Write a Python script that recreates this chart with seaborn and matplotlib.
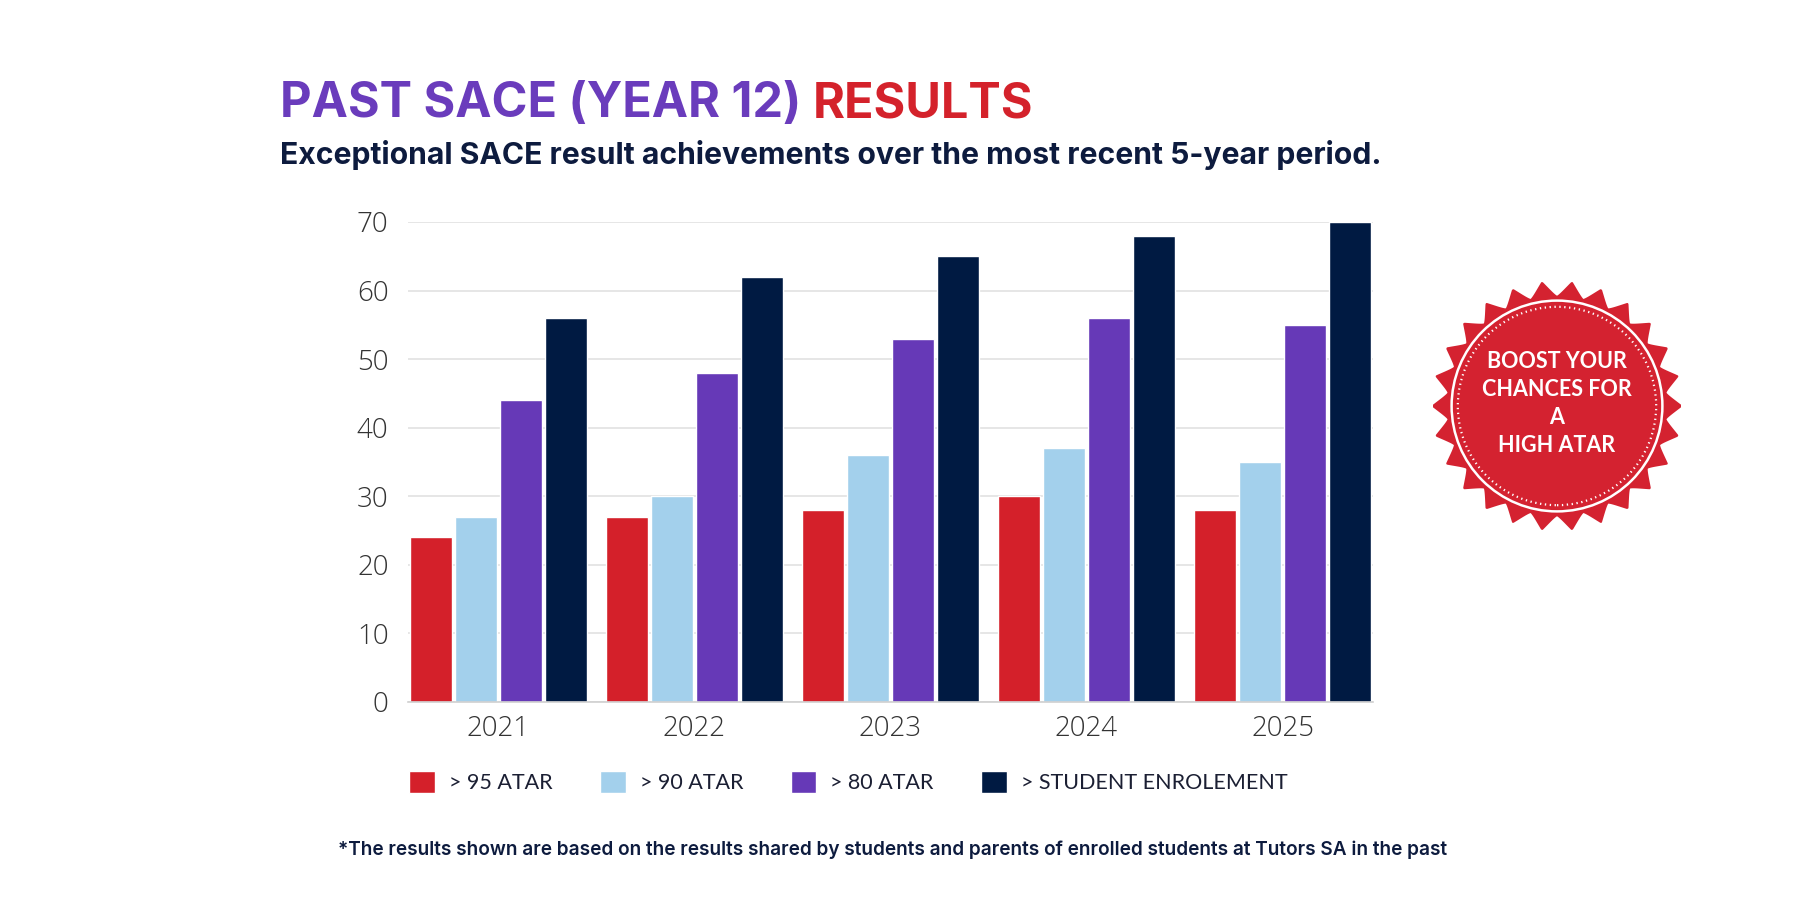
import numpy as np
import pandas as pd
import seaborn as sns
import matplotlib.pyplot as plt
from matplotlib.patches import Polygon, Circle

# chart values
years = ["2021", "2022", "2023", "2024", "2025"]
series_names = ["> 95 ATAR", "> 90 ATAR", "> 80 ATAR", "> STUDENT ENROLEMENT"]
atar_95 = [24, 27, 28, 30, 28]
atar_90 = [27, 30, 36, 37, 35]
atar_80 = [44, 48, 53, 56, 55]
enrolment = [56, 62, 65, 68, 70]
y_ticks = [0, 10, 20, 30, 40, 50, 60, 70]

colors = ["#d4202a", "#a3d0ec", "#6639b7", "#001a42"]
PURPLE = "#6a3cbc"
RED = "#d4222b"
NAVY = "#0d1b3e"

rows = []
for name, vals in zip(series_names, [atar_95, atar_90, atar_80, enrolment]):
    for yr, v in zip(years, vals):
        rows.append({"year": yr, "series": name, "value": v})
df = pd.DataFrame(rows)

sns.set_theme(style="white")
plt.rcParams["font.family"] = ["Open Sans", "DejaVu Sans"]

W, H = 1800, 900
fig = plt.figure(figsize=(18, 9), dpi=100)
fig.patch.set_facecolor("white")


def px(x, y):
    # pixel coords (top-left origin) -> figure fraction
    return x / W, 1 - y / H


# main axes: bars from x=408 to 1373 px, y=0 at 702 px, 70 at 222 px
ax = fig.add_axes([408 / W, 198 / H, 965 / W, 480 / H])
sns.barplot(data=df, x="year", y="value", hue="series", palette=colors,
            width=0.92, gap=0.06, saturation=1, ax=ax)
ax.set_xlim(-0.4615, 4.4615)
ax.set_ylim(0, 70)
ax.set_yticks(y_ticks)
ax.set_xlabel("")
ax.set_ylabel("")
ax.yaxis.grid(True, color="#e2e2e2", linewidth=1.2)
ax.set_axisbelow(True)
for side in ["top", "right", "left"]:
    ax.spines[side].set_visible(False)
ax.spines["bottom"].set_color("#d0d0d0")
ax.spines["bottom"].set_linewidth(1.2)
ax.tick_params(axis="y", length=0, pad=14, labelsize=20, labelcolor="#333333")
ax.tick_params(axis="x", length=0, pad=9, labelsize=20, labelcolor="#333333")
for lab in ax.get_xticklabels() + ax.get_yticklabels():
    lab.set_fontweight("light")

handles, labels = ax.get_legend_handles_labels()
ax.get_legend().remove()
leg = fig.legend(handles, labels, loc="upper left", bbox_to_anchor=px(409, 771),
                 ncol=4, frameon=False, handlelength=1.2,
                 handleheight=1.2, handletextpad=0.65, columnspacing=2.2,
                 borderpad=0, borderaxespad=0, prop={"family": "Lato", "size": 15.5})
for t in leg.get_texts():
    t.set_color("#1b1f33")

# title in two colours
renderer = fig.canvas.get_renderer()
t1 = fig.text(*px(280, 117), "PAST SACE (YEAR 12) ", color=PURPLE, fontsize=35,
              fontweight="bold", family="Inter", va="baseline", ha="left")
bb = t1.get_window_extent(renderer)
fig.text(bb.x1 / W, 1 - 117 / H, "RESULTS", color=RED, fontsize=35,
         fontweight="bold", family="Inter", va="baseline", ha="left")

fig.text(*px(280, 164), "Exceptional SACE result achievements over the most recent 5-year period.",
         color=NAVY, fontsize=21.7, fontweight="bold", family="Inter",
         va="baseline", ha="left")

fig.text(*px(338, 855), "*The results shown are based on the results shared by students and parents of enrolled students at Tutors SA in the past",
         color=NAVY, fontsize=13.7, fontweight="semibold", family="Inter",
         va="baseline", ha="left")

# badge on the right
cx, cy, R = 1557, 406, 124
bax = fig.add_axes([(cx - R) / W, (H - cy - R) / H, 2 * R / W, 2 * R / H])
bax.set_xlim(-1, 1)
bax.set_ylim(-1, 1)
bax.set_aspect("equal")
bax.axis("off")
theta = np.linspace(0, 2 * np.pi, 1500) + np.pi / 2
tri = 1 - 2 * np.abs(((26 * (theta - np.pi / 2) / (2 * np.pi)) % 1) - 0.5)
r = 0.88 + 0.12 * tri ** 1.3
bax.add_patch(Polygon(np.c_[r * np.cos(theta), r * np.sin(theta)], closed=True,
                      facecolor="#d42230", edgecolor="#d42230", linewidth=1.5,
                      joinstyle="round"))
bax.add_patch(Circle((0, 0), 0.85, facecolor="none", edgecolor="white", linewidth=1.8))
bax.add_patch(Circle((0, 0), 0.80, facecolor="none", edgecolor="white",
                     linewidth=1.6, linestyle=(0, (0.6, 1.6))))
bax.text(0, 0.02, "BOOST YOUR\nCHANCES FOR\nA\nHIGH ATAR", color="white",
         fontsize=15.5, fontweight="bold", family="Lato", ha="center",
         va="center", linespacing=1.4, multialignment="center")

fig.savefig("out.png", dpi=100, facecolor="white")
